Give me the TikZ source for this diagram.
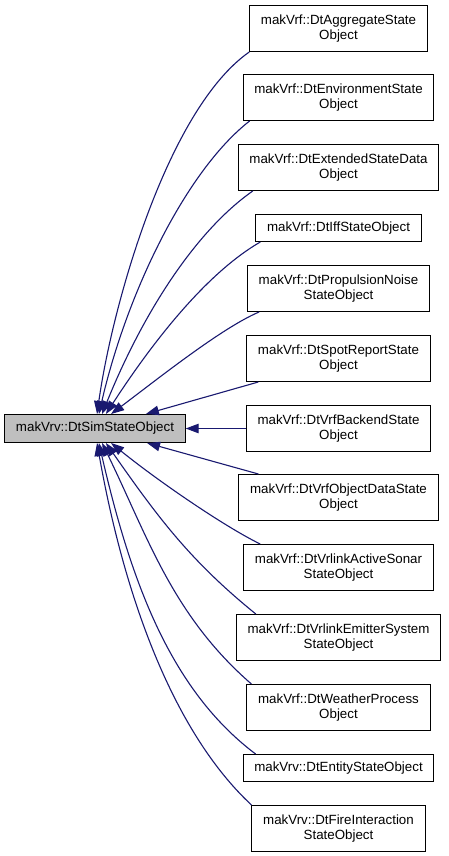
\documentclass[tikz,border=0pt]{standalone}
\usepackage{fontspec}
\setmainfont{Liberation Sans}
\usetikzlibrary{arrows.meta}
\definecolor{edgeblue}{HTML}{191970}
\definecolor{simgray}{HTML}{BFBFBF}
\newcommand\dgfont{\fontsize{13.33pt}{15pt}\selectfont}
\begin{document}
\begin{tikzpicture}[x=1pt,y=-1pt,
  box/.style={draw=black, line width=1pt, fill=white, inner xsep=11.2pt, inner ysep=0pt, align=center, font=\dgfont, text=black},
  two/.style={box, minimum height=46pt},
  one/.style={box, minimum height=27pt},
  edge/.style={draw=edgeblue, line width=1.1pt, -{Triangle[length=13pt,width=9.5pt]}}]
\fill[white] (0,0) rectangle (448,856);
\useasboundingbox (0,0) rectangle (448,856);

\node[one, fill=simgray, minimum height=28pt] (sim) at (95,428.5) {makVrv::DtSimStateObject};

\node[two] (agg)   at (338.5,28.5)  {makVrf::DtAggregateState\\Object};
\node[two] (env)   at (338.5,97.5)  {makVrf::DtEnvironmentState\\Object};
\node[two] (ext)   at (338.5,167.5) {makVrf::DtExtendedStateData\\Object};
\node[one] (iff)   at (338.5,228)   {makVrf::DtIffStateObject};
\node[two] (prop)  at (338.5,288.5) {makVrf::DtPropulsionNoise\\StateObject};
\node[two] (spot)  at (338.5,358.5) {makVrf::DtSpotReportState\\Object};
\node[two] (back)  at (338.5,428.5) {makVrf::DtVrfBackendState\\Object};
\node[two] (objd)  at (338.5,497.5) {makVrf::DtVrfObjectDataState\\Object};
\node[two] (sonar) at (338.5,567.5) {makVrf::DtVrlinkActiveSonar\\StateObject};
\node[two] (emit)  at (338.5,637.5) {makVrf::DtVrlinkEmitterSystem\\StateObject};
\node[two] (weath) at (338.5,707.5) {makVrf::DtWeatherProcess\\Object};
\node[one] (ent)   at (338.5,768)   {makVrv::DtEntityStateObject};
\node[two] (fire)  at (338.5,828.5) {makVrv::DtFireInteraction\\StateObject};

\draw[edge] ([xshift=0pt]agg.south west) .. controls +(215:100pt) and +(82:110pt) .. (sim.82);
\draw[edge] ([xshift=7pt]env.south west) .. controls +(218:81pt) and +(77:124pt) .. (sim.75);
\draw[edge] ([xshift=15pt]ext.south west) .. controls +(215:72pt) and +(68:105pt) .. (sim.64);
\draw[edge] ([xshift=5pt]iff.south west) .. controls +(210:70pt) and +(57:67pt) .. (sim.53);
\draw[edge] ([xshift=12pt]prop.south west) .. controls +(203:40pt) and +(37:60pt) .. (sim.42);
\draw[edge] ([xshift=12pt]spot.south west) -- (sim);
\draw[edge] (back) -- (sim);
\draw[edge] ([xshift=20pt]objd.north west) -- (sim);
\draw[edge] ([xshift=17pt]sonar.north west) .. controls +(154:40pt) and +(-39:60pt) .. (sim.-42);
\draw[edge] ([xshift=20pt]emit.north west) .. controls +(141:85pt) and +(-55:90pt) .. (sim.-53);
\draw[edge] ([xshift=5pt]weath.north west) .. controls +(139:105pt) and +(-64:104pt) .. (sim.-64);
\draw[edge] ([xshift=13pt]ent.north west) .. controls +(143:107pt) and +(-77:142pt) .. (sim.-75);
\draw[edge] ([xshift=0pt]fire.north west) .. controls +(137:115pt) and +(-80:140pt) .. (sim.-82);
\end{tikzpicture}
\end{document}
